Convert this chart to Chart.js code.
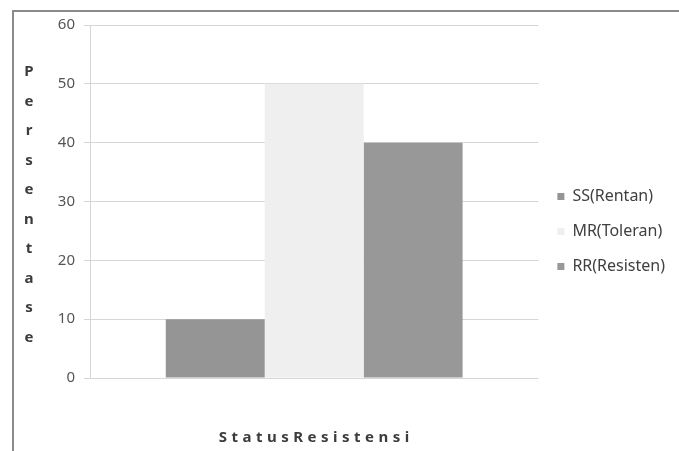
<!DOCTYPE html>
<html>
<head>
<meta charset="utf-8">
<script src="https://cdn.jsdelivr.net/npm/chart.js@4.4.1/dist/chart.umd.min.js"></script>
<style>
  body { margin: 0; background: #fff; }
  #wrap { position: relative; width: 679px; height: 451px; }
  #frame { position: absolute; left: 12px; top: 10px; right: -2px; bottom: -2px; border-left: 2px solid #8a8a8a; border-top: 2px solid #8a8a8a; }
  canvas { position: absolute; left: 0; top: 0; }
</style>
</head>
<body>
<div id="wrap">
  <div id="frame"></div>
  <canvas id="resistChart" width="679" height="451"></canvas>
</div>
<script>
const categories = [''];
const seriesNames = ['SS(Rentan)', 'MR(Toleran)', 'RR(Resisten)'];
const seriesValues = [[10], [50], [40]];
const seriesColors = ['#959595', '#efefef', '#989898'];
const yTicks = [0, 10, 20, 30, 40, 50, 60];
const yTitle = 'Persentase';
const xTitle = 'StatusResistensi';

const fontFamily = '"Noto Sans", "Open Sans", sans-serif';

// titles drawn by hand: stacked letters on the left, spaced letters below
const titlesPlugin = {
  id: 'titles',
  afterDraw(chart) {
    const { ctx, chartArea } = chart;
    ctx.save();
    ctx.fillStyle = '#3c3c3c';
    ctx.font = `bold 15px ${fontFamily}`;
    ctx.textAlign = 'center';
    ctx.textBaseline = 'middle';
    const letters = yTitle.split('');
    letters.forEach((ch, i) => {
      ctx.fillText(ch, 29, 72 + i * 29.5);
    });
    ctx.letterSpacing = '4.5px';
    ctx.fillText(xTitle, (chartArea.left + chartArea.right) / 2 + 2, 438);
    ctx.restore();
  }
};

const datasets = seriesNames.map((name, i) => ({
  label: name,
  data: seriesValues[i],
  backgroundColor: seriesColors[i],
  borderWidth: 0,
  categoryPercentage: 0.662,
  barPercentage: 1
}));

new Chart(document.getElementById('resistChart').getContext('2d'), {
  type: 'bar',
  data: { labels: categories, datasets },
  options: {
    responsive: false,
    animation: false,
    layout: { padding: { top: 25, left: 0, right: 4, bottom: 13 } },
    plugins: {
      tooltip: { enabled: false },
      legend: {
        position: 'right',
        labels: {
          color: '#404040',
          font: { family: fontFamily, size: 16 },
          boxWidth: 7,
          boxHeight: 7,
          padding: 19
        }
      }
    },
    scales: {
      x: {
        grid: { display: false },
        border: { display: false },
        ticks: { display: false },
        afterFit(scale) { scale.height = 451 - 13 - 378; }
      },
      y: {
        min: 0,
        max: 60,
        afterBuildTicks(scale) { scale.ticks = yTicks.map(v => ({ value: v })); },
        afterFit(scale) { scale.width = 90; },
        ticks: {
          color: '#555555',
          font: { family: fontFamily, size: 15 },
          padding: 9
        },
        grid: { color: '#d6d6d6', tickLength: 6, lineWidth: 1 },
        border: { display: true, color: '#d6d6d6' }
      }
    }
  },
  plugins: [titlesPlugin]
});
</script>
</body>
</html>
